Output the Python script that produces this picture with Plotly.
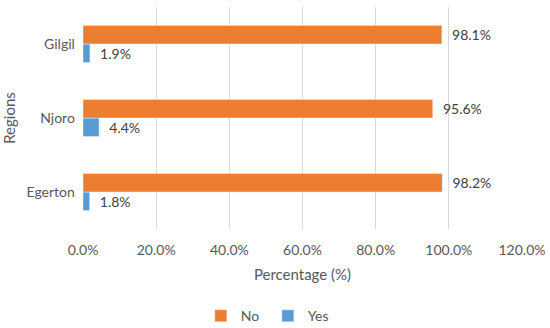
import plotly.graph_objects as go

regions = ["Egerton", "Njoro", "Gilgil"]
yes_vals = [0.018, 0.044, 0.019]
no_vals = [0.982, 0.956, 0.981]
tick_vals = [0, 0.2, 0.4, 0.6, 0.8, 1.0, 1.2]

font = dict(family="Lato, Open Sans, sans-serif", color="#595959", size=14)

fig = go.Figure()
fig.add_trace(go.Bar(y=regions, x=yes_vals, name="Yes", orientation="h",
                     marker_color="#5B9BD5", text=yes_vals, texttemplate="  %{x:.1%}",
                     textposition="outside", cliponaxis=False,
                     textfont=dict(color="#404040", size=14)))
fig.add_trace(go.Bar(y=regions, x=no_vals, name="No", orientation="h",
                     marker_color="#ED7D31", text=no_vals, texttemplate="  %{x:.1%}",
                     textposition="outside", cliponaxis=False,
                     textfont=dict(color="#404040", size=14)))

fig.update_layout(
    width=550, height=328,
    margin=dict(l=83, r=28, t=7, b=99, autoexpand=False),
    barmode="group", bargap=0.5, bargroupgap=0,
    plot_bgcolor="white", paper_bgcolor="white",
    font=font,
    showlegend=True,
    legend=dict(orientation="h", xref="container", yref="container",
                x=0.487, xanchor="center", y=0.036, yanchor="middle",
                traceorder="reversed", font=dict(size=14, color="#595959"),
                itemwidth=30, entrywidth=22, entrywidthmode="pixels"),
    xaxis=dict(range=[0, 1.2], tickvals=tick_vals, tickformat=".1%",
               showgrid=True, gridcolor="#D9D9D9", gridwidth=1, zeroline=False,
               showline=False, ticks="outside", ticklen=8, tickcolor="rgba(0,0,0,0)",
               ticklabeloverflow="allow", automargin=False,
               title=dict(text="Percentage (%)", font=dict(size=15, color="#595959"), standoff=12)),
    yaxis=dict(showgrid=False, zeroline=False, showline=False, ticks="", automargin=False,
               ticksuffix="  ",
               title=dict(text="Regions", font=dict(size=15, color="#595959"), standoff=12)),
)
fig.write_html("out.html", config={"displayModeBar": False},
               post_script="document.body.style.margin='0';document.body.style.padding='0';")
